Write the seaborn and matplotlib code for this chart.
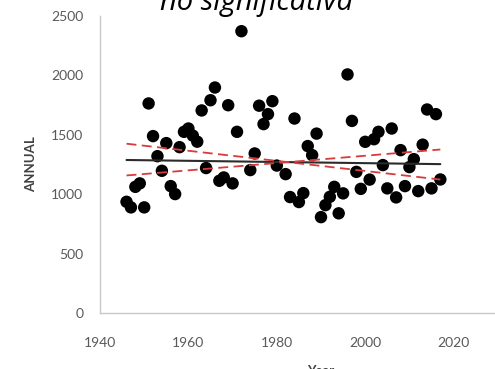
import numpy as np
import pandas as pd
import matplotlib
matplotlib.use("Agg")
import matplotlib.pyplot as plt
import seaborn as sns

# Annual totals per year (1973 and 1981 have no record)
years = [1946, 1947, 1948, 1949, 1950, 1951, 1952, 1953, 1954, 1955,
         1956, 1957, 1958, 1959, 1960, 1961, 1962, 1963, 1964, 1965,
         1966, 1967, 1968, 1969, 1970, 1971, 1972, 1974, 1975, 1976,
         1977, 1978, 1979, 1980, 1982, 1983, 1984, 1985, 1986, 1987,
         1988, 1989, 1990, 1991, 1992, 1993, 1994, 1995, 1996, 1997,
         1998, 1999, 2000, 2001, 2002, 2003, 2004, 2005, 2006, 2007,
         2008, 2009, 2010, 2011, 2012, 2013, 2014, 2015, 2016, 2017]
annual = [936, 889, 1062, 1091, 889, 1764, 1489, 1320, 1197, 1430,
          1068, 1001, 1396, 1525, 1553, 1493, 1442, 1705, 1220, 1791,
          1898, 1113, 1141, 1749, 1091, 1525, 2372, 1203, 1343, 1745,
          1590, 1674, 1783, 1241, 1169, 976, 1637, 934, 1009, 1405,
          1329, 1510, 807, 908, 978, 1062, 839, 1007, 2008, 1617,
          1188, 1045, 1441, 1123, 1463, 1525, 1245, 1049, 1553, 973,
          1371, 1068, 1228, 1295, 1026, 1417, 1713, 1049, 1674, 1124]

y_ticks = [0, 500, 1000, 1500, 2000, 2500]
x_ticks = [1940, 1960, 1980, 2000, 2020]
title = "no significativa"

sns.set_theme(style="white")
plt.rcParams["font.family"] = ["Lato", "DejaVu Sans"]

df = pd.DataFrame({"Year": years, "ANNUAL": annual})

# Sen's slope estimate with its 95 % confidence bounds (Mann-Kendall variance),
# each line anchored at the medians of year and value
x = df["Year"].to_numpy(float)
y = df["ANNUAL"].to_numpy(float)
n = len(x)
i, j = np.triu_indices(n, k=1)
pair_slopes = np.sort((y[j] - y[i]) / (x[j] - x[i]))
n_pairs = len(pair_slopes)
var_s = n * (n - 1) * (2 * n + 5) / 18.0
c_alpha = 1.96 * np.sqrt(var_s)
m1 = int(round((n_pairs - c_alpha) / 2.0))
m2 = int(round((n_pairs + c_alpha) / 2.0))
q_sen = np.median(pair_slopes)
q_min = pair_slopes[m1 - 1]
q_max = pair_slopes[m2]
x_med, y_med = np.median(x), np.median(y)
xs = np.array([x.min(), x.max()])


def sen_line(q):
    return y_med + q * (xs - x_med)


trend = sen_line(q_sen)
band_lo = sen_line(q_min)
band_hi = sen_line(q_max)

fig = plt.figure(figsize=(4.95, 3.69), dpi=100)
ax = fig.add_axes([100 / 495, 56 / 369, 442 / 495, 297 / 369])

sns.scatterplot(data=df, x="Year", y="ANNUAL", ax=ax, s=80, color="black",
                edgecolor="none", zorder=2, legend=False)
sns.lineplot(x=xs, y=trend, ax=ax, color="#2b2b2b", lw=1.5, zorder=3)
for band in (band_lo, band_hi):
    sns.lineplot(x=xs, y=band, ax=ax, color="#d93b3b", lw=1.3,
                 linestyle=(0, (5.5, 3)), zorder=3)

ax.set_xlim(1940, 2040)
ax.set_ylim(0, 2500)
ax.set_xticks(x_ticks)
ax.set_yticks(y_ticks)
ax.set_xticklabels([str(v) for v in x_ticks])
ax.set_yticklabels([str(v) for v in y_ticks])

for side in ("top", "right"):
    ax.spines[side].set_visible(False)
for side in ("left", "bottom"):
    ax.spines[side].set_color("#c8c8c8")
    ax.spines[side].set_linewidth(1.0)

ax.tick_params(axis="both", which="major", direction="out", length=4,
               width=0.8, color="#c8c8c8", labelcolor="#595959",
               labelsize=10)
ax.tick_params(axis="y", pad=8)
ax.tick_params(axis="x", pad=13)

ax.set_ylabel("ANNUAL", fontsize=9.5, fontweight="bold", color="#404040")
ax.yaxis.set_label_coords(-(100 - 37) / 442, 0.5)
ax.set_xlabel("Year", fontsize=9.5, fontweight="bold", color="#404040")
ax.xaxis.set_label_coords(0.5, (4 - 56) / 297)

fig.text(257 / 495, (369 - 10) / 369, title, ha="center", va="baseline",
         fontsize=21, style="italic", family=["Open Sans", "DejaVu Sans"],
         color="black")

fig.savefig("out.png", dpi=100)
